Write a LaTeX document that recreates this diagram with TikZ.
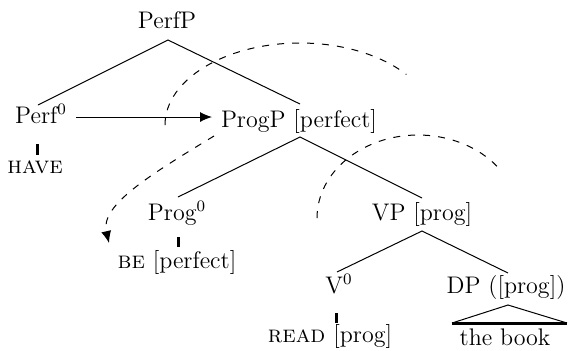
\documentclass[tikz,border=0pt]{standalone}
\usetikzlibrary{arrows.meta}
\begin{document}
\begin{tikzpicture}[x=0.5pt,y=-0.5pt,
  lbl/.style={inner sep=0pt,anchor=base,font=\fontsize{12}{14}\selectfont},
  branch/.style={line width=0.5pt},
  tick/.style={line width=1.5pt},
  arcdash/.style={line width=0.5pt,dash pattern=on 3.5pt off 4pt},
  tip/.style={-{Latex[length=6pt,width=5pt]}}]
\useasboundingbox (0,0) rectangle (571,350);
% labels
\node[lbl] (PerfP) at (167,28) {PerfP};
\node[lbl] (Perf) at (41,123) {Perf$^0$};
\node[lbl] (have) at (35,173) {\textsc{have}};
\node[lbl] (ProgP) at (299,127) {ProgP [perfect]};
\node[lbl] (Prog) at (177,220) {Prog$^0$};
\node[lbl] (be) at (177,268) {\textsc{be} [perfect]};
\node[lbl] (VP) at (422,220) {VP [prog]};
\node[lbl] (V) at (339,293) {V$^0$};
\node[lbl] (DP) at (506,293) {DP ([prog])};
\node[lbl] (read) at (330,342) {\textsc{read} [prog]};
\node[lbl] (book) at (505,345) {the book};
% branch points
\coordinate (PerfPb) at (168,40);
\coordinate (Perft) at (38,105);
\coordinate (ProgPt) at (300,104);
\coordinate (ProgPb) at (300,137);
\coordinate (Progt) at (178,197);
\coordinate (VPt) at (422,198);
\coordinate (VPb) at (422,231);
\coordinate (Vt) at (337,272);
\coordinate (DPt) at (508,273);
\coordinate (DPb) at (508,305);
\coordinate (bookl) at (452,323);
\coordinate (bookr) at (567,323);
\draw[branch] (Perft) -- (PerfPb) -- (ProgPt);
\draw[branch] (Progt) -- (ProgPb) -- (VPt);
\draw[branch] (Vt) -- (VPb) -- (DPt);
\draw[branch] (bookl) -- (DPb) -- (bookr);
\draw[tick] (bookl) -- (bookr);
% ticks
\coordinate (haveT) at (37,144); \coordinate (haveB) at (37,155);
\coordinate (beT) at (178,237); \coordinate (beB) at (178,247);
\coordinate (readT) at (336,313); \coordinate (readB) at (336,323);
\draw[tick] (haveT) -- (haveB);
\draw[tick] (beT) -- (beB);
\draw[tick] (readT) -- (readB);
% arrow Perf -> ProgP
\coordinate (arrS) at (76,117);
\coordinate (arrE) at (212,117);
\draw[branch,tip] (arrS) -- (arrE);
% dashed arcs
\coordinate (arc1s) at (165,125);
\draw[arcdash] (arc1s) arc[start angle=180,end angle=38,x radius=67.5pt,y radius=41pt];
\coordinate (arc3s) at (317,218);
\draw[arcdash] (arc3s) arc[start angle=180,end angle=38,x radius=50.5pt,y radius=41.5pt];
\coordinate (mvS) at (214,136);
\coordinate (mvE) at (109,243);
\draw[arcdash,tip] (mvS) .. controls (150,175) and (100,205) .. (mvE);
\end{tikzpicture}
\end{document}
